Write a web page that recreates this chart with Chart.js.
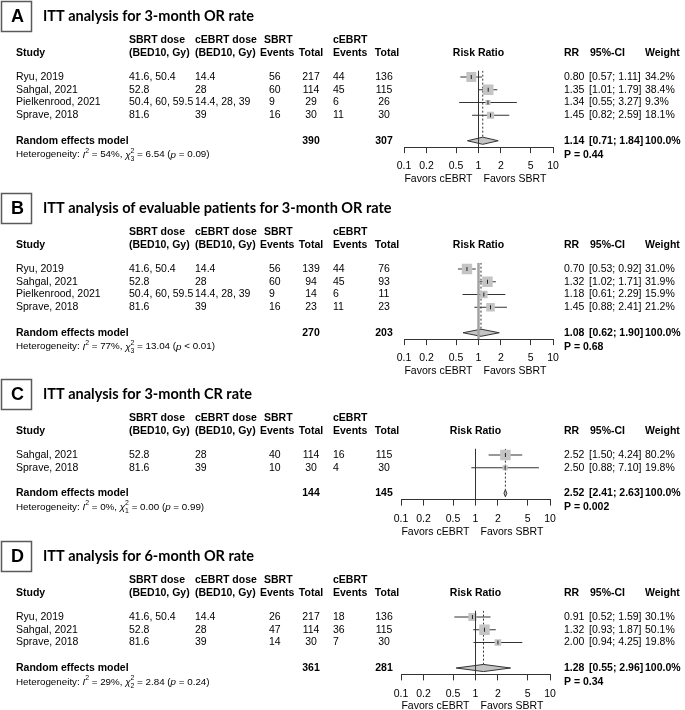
<!DOCTYPE html>
<html>
<head>
<meta charset="utf-8">
<script src="https://cdn.jsdelivr.net/npm/chart.js@4.4.1/dist/chart.umd.min.js"></script>
<style>
  html, body { margin: 0; padding: 0; background: #fff; }
  #wrap { position: relative; width: 685px; height: 710px; overflow: hidden; background: #fff; }
  canvas { position: absolute; left: 0; }
</style>
</head>
<body>
<div id="wrap">
  <canvas id="panelA" width="685" height="190"></canvas>
  <canvas id="panelB" width="685" height="190"></canvas>
  <canvas id="panelC" width="685" height="170"></canvas>
  <canvas id="panelD" width="685" height="170"></canvas>
</div>
<script>
// ---- panel A: ITT, 3-month OR ----
const studiesA = ['Ryu, 2019', 'Sahgal, 2021', 'Pielkenrood, 2021', 'Sprave, 2018'];
const sbrtDoseA = ['41.6, 50.4', '52.8', '50.4, 60, 59.5', '81.6'];
const cebrtDoseA = ['14.4', '28', '14.4, 28, 39', '39'];
const sbrtEventsA = [56, 60, 9, 16];
const sbrtTotalA = [217, 114, 29, 30];
const cebrtEventsA = [44, 45, 6, 11];
const cebrtTotalA = [136, 115, 26, 30];
const rrA = [0.80, 1.35, 1.34, 1.45];
const lowerA = [0.57, 1.01, 0.55, 0.82];
const upperA = [1.11, 1.79, 3.27, 2.59];
const weightA = [34.2, 38.4, 9.3, 18.1];

// ---- panel B: evaluable patients, 3-month OR ----
const studiesB = ['Ryu, 2019', 'Sahgal, 2021', 'Pielkenrood, 2021', 'Sprave, 2018'];
const sbrtDoseB = ['41.6, 50.4', '52.8', '50.4, 60, 59.5', '81.6'];
const cebrtDoseB = ['14.4', '28', '14.4, 28, 39', '39'];
const sbrtEventsB = [56, 60, 9, 16];
const sbrtTotalB = [139, 94, 14, 23];
const cebrtEventsB = [44, 45, 6, 11];
const cebrtTotalB = [76, 93, 11, 23];
const rrB = [0.70, 1.32, 1.18, 1.45];
const lowerB = [0.53, 1.02, 0.61, 0.88];
const upperB = [0.92, 1.71, 2.29, 2.41];
const weightB = [31.0, 31.9, 15.9, 21.2];

// ---- panel C: ITT, 3-month CR ----
const studiesC = ['Sahgal, 2021', 'Sprave, 2018'];
const sbrtDoseC = ['52.8', '81.6'];
const cebrtDoseC = ['28', '39'];
const sbrtEventsC = [40, 10];
const sbrtTotalC = [114, 30];
const cebrtEventsC = [16, 4];
const cebrtTotalC = [115, 30];
const rrC = [2.52, 2.50];
const lowerC = [1.50, 0.88];
const upperC = [4.24, 7.10];
const weightC = [80.2, 19.8];

// ---- panel D: ITT, 6-month OR ----
const studiesD = ['Ryu, 2019', 'Sahgal, 2021', 'Sprave, 2018'];
const sbrtDoseD = ['41.6, 50.4', '52.8', '81.6'];
const cebrtDoseD = ['14.4', '28', '39'];
const sbrtEventsD = [26, 47, 14];
const sbrtTotalD = [217, 114, 30];
const cebrtEventsD = [18, 36, 7];
const cebrtTotalD = [136, 115, 30];
const rrD = [0.91, 1.32, 2.00];
const lowerD = [0.52, 0.93, 0.94];
const upperD = [1.59, 1.87, 4.25];
const weightD = [30.1, 50.1, 19.8];

// ---- per-panel summary values (A, B, C, D) ----
const panelLetters = ['A', 'B', 'C', 'D'];
const panelTitles = [
  'ITT analysis for 3-month OR rate',
  'ITT analysis of evaluable patients for 3-month OR rate',
  'ITT analysis for 3-month CR rate',
  'ITT analysis for 6-month OR rate',
];
const pooledRR = [1.14, 1.08, 2.52, 1.28];
const pooledLower = [0.71, 0.62, 2.41, 0.55];
const pooledUpper = [1.84, 1.90, 2.63, 2.96];
const pooledSbrtTotal = [390, 270, 144, 361];
const pooledCebrtTotal = [307, 203, 145, 281];
const pValues = ['0.44', '0.68', '0.002', '0.34'];
const hetI2 = ['54%', '77%', '0%', '29%'];
const hetDf = ['3', '3', '1', '2'];
const hetChi2 = ['6.54', '13.04', '0.00', '2.84'];
const hetP = ['= 0.09', '< 0.01', '= 0.99', '= 0.24'];

const xTicks = [0.1, 0.2, 0.5, 1, 2, 5, 10];
const xTickLabels = ['0.1', '0.2', '0.5', '1', '2', '5', '10'];
const favorsLabels = ['Favors cEBRT', 'Favors SBRT'];

// ---- layout / style ----
const SANS = '"Liberation Sans", Arial, Helvetica, sans-serif';
const FS = 10.5;
const UNIT = 12.75;          // px per table row
const ROW0 = 77;             // first study row, px from panel top
const PAD_TOP = ROW0 - UNIT / 2;
const MAX_SIDE = 10.5;       // side of the largest weight square
const DIAMOND_H = 0.28;      // half height of the diamond, in rows
const panelTops = [0, 192, 378, 540];
const axisLeft = [404, 404, 401, 401];
const axisRight = [553, 553, 550, 550];
const refColor = ['#333', '#a3a3a3', '#333', '#333'];
const refWidth = [1, 2.5, 1, 1];
const GREY = '#c4c4c4';
const INK = '#333';
// column x positions
const COL = {
  study: 16, sbrtDose: 129, cebrtDose: 195,
  sbrtEventsHead1: 264, sbrtEventsHead2: 260, sbrtEvents: 269,
  sbrtTotal: 311, cebrtEvents: 333, cebrtTotalHead: 387, cebrtTotal: 384,
  rr: 564, ciHead: 590, ci: 589, weight: 645,
};

const chartInstances = {};

function text(ctx, s, x, y, align, bold, size) {
  ctx.font = (bold ? 'bold ' : '') + (size || FS) + 'px ' + SANS;
  ctx.textAlign = align || 'left';
  ctx.textBaseline = 'middle';
  ctx.fillStyle = '#000';
  ctx.fillText(s, x, y);
}

function drawHeterogeneity(ctx, k, x, y) {
  const size = 9.8;
  const normal = size + 'px ' + SANS;
  const italic = 'italic ' + size + 'px ' + SANS;
  const small = (size * 0.7).toFixed(1) + 'px ' + SANS;
  ctx.textAlign = 'left';
  ctx.textBaseline = 'middle';
  ctx.fillStyle = '#000';
  let cx = x;
  const put = (s, font, dy) => {
    ctx.font = font;
    ctx.fillText(s, cx, y + (dy || 0));
    cx += ctx.measureText(s).width;
  };
  put('Heterogeneity: ', normal);
  put('I', italic);
  put('2', small, -4);
  put(' = ' + hetI2[k] + ', ', normal);
  put('\u03C7', italic);
  ctx.font = small;
  ctx.fillText('2', cx, y - 4);
  ctx.fillText(hetDf[k], cx, y + 4);
  cx += ctx.measureText('2').width;
  put(' = ' + hetChi2[k] + ' (', normal);
  put('p', italic);
  put(' ' + hetP[k] + ')', normal);
}

function tablePlugin(k, rows) {
  return {
    id: 'forestTable' + k,
    afterDraw(chart) {
      const ctx = chart.ctx;
      const ys = chart.scales.y;
      const xs = chart.scales.x;
      const Y = v => ys.getPixelForValue(v);
      const n = rows.studies.length;
      ctx.save();

      // letter box + title
      const top = Y(0) - 76;
      ctx.strokeStyle = '#5a5a5a';
      ctx.lineWidth = 1.5;
      ctx.strokeRect(1.5, top + 0.5, 30, 30);
      text(ctx, panelLetters[k], 17.5, top + 16, 'center', true, 18);
      ctx.font = 'bold 14.5px Lato, "Open Sans", sans-serif';
      ctx.textAlign = 'left';
      ctx.textBaseline = 'middle';
      ctx.fillStyle = '#000';
      ctx.fillText(panelTitles[k], 43, top + 15);

      // column headers
      const h1 = Y(-2.9), h2 = Y(-1.9);
      text(ctx, 'SBRT dose', COL.sbrtDose, h1, 'left', true);
      text(ctx, 'cEBRT dose', COL.cebrtDose, h1, 'left', true);
      text(ctx, 'SBRT', COL.sbrtEventsHead1, h1, 'left', true);
      text(ctx, 'cEBRT', COL.cebrtEvents, h1, 'left', true);
      text(ctx, 'Study', COL.study, h2, 'left', true);
      text(ctx, '(BED10, Gy)', COL.sbrtDose, h2, 'left', true);
      text(ctx, '(BED10, Gy)', COL.cebrtDose, h2, 'left', true);
      text(ctx, 'Events', COL.sbrtEventsHead2, h2, 'left', true);
      text(ctx, 'Total', COL.sbrtTotal, h2, 'center', true);
      text(ctx, 'Events', COL.cebrtEvents, h2, 'left', true);
      text(ctx, 'Total', COL.cebrtTotalHead, h2, 'center', true);
      text(ctx, 'Risk Ratio', xs.getPixelForValue(1), h2, 'center', true);
      text(ctx, 'RR', COL.rr, h2, 'left', true);
      text(ctx, '95%-CI', COL.ciHead, h2, 'left', true);
      text(ctx, 'Weight', COL.weight, h2, 'left', true);

      // study rows
      rows.studies.forEach((s, i) => {
        const y = Y(i);
        text(ctx, s, COL.study, y);
        text(ctx, rows.sbrtDose[i], COL.sbrtDose, y);
        text(ctx, rows.cebrtDose[i], COL.cebrtDose, y);
        text(ctx, String(rows.sbrtEvents[i]), COL.sbrtEvents, y);
        text(ctx, String(rows.sbrtTotal[i]), COL.sbrtTotal, y, 'center');
        text(ctx, String(rows.cebrtEvents[i]), COL.cebrtEvents, y);
        text(ctx, String(rows.cebrtTotal[i]), COL.cebrtTotal, y, 'center');
        text(ctx, rows.rr[i].toFixed(2), COL.rr, y);
        text(ctx, '[' + rows.lower[i].toFixed(2) + '; ' + rows.upper[i].toFixed(2) + ']', COL.ci, y);
        text(ctx, rows.weight[i].toFixed(1) + '%', COL.weight, y);
      });

      // pooled row
      const yr = Y(n + 1);
      text(ctx, 'Random effects model', COL.study, yr, 'left', true);
      text(ctx, String(pooledSbrtTotal[k]), COL.sbrtTotal, yr, 'center', true);
      text(ctx, String(pooledCebrtTotal[k]), COL.cebrtTotal, yr, 'center', true);
      text(ctx, pooledRR[k].toFixed(2), COL.rr, yr, 'left', true);
      text(ctx, '[' + pooledLower[k].toFixed(2) + '; ' + pooledUpper[k].toFixed(2) + ']', COL.ci, yr, 'left', true);
      text(ctx, '100.0%', COL.weight, yr, 'left', true);

      const yh = Y(n + 2.1);
      drawHeterogeneity(ctx, k, COL.study, yh);
      text(ctx, 'P = ' + pValues[k], COL.rr, yh, 'left', true);

      // favours labels under the axis
      const x1 = xs.getPixelForValue(1);
      const yf = chart.chartArea.bottom + 32;
      text(ctx, favorsLabels[0], x1 - 6, yf, 'right');
      text(ctx, favorsLabels[1], x1 + 5, yf, 'left');
      ctx.restore();
    },
  };
}

function renderPanel(k, rows) {
  const id = 'panel' + panelLetters[k];
  const canvas = document.getElementById(id);
  const n = rows.studies.length;
  const axisY = PAD_TOP + (n + 2) * UNIT;
  const height = Math.ceil(axisY + 40);
  canvas.height = height;
  canvas.style.top = panelTops[k] + 'px';

  if (chartInstances[id]) chartInstances[id].destroy();

  const wmax = Math.max(...rows.weight);
  const points = rows.rr.map((v, i) => ({ x: v, y: i }));
  const yd = n + 1;
  const datasets = [];

  // line of no effect
  datasets.push({
    data: [{ x: 1, y: -0.5 }, { x: 1, y: n + 1.5 }],
    showLine: true, borderColor: refColor[k], borderWidth: refWidth[k], pointRadius: 0, order: 0,
  });
  // pooled estimate, dotted
  datasets.push({
    data: [{ x: pooledRR[k], y: -0.5 }, { x: pooledRR[k], y: yd - DIAMOND_H }],
    showLine: true, borderColor: INK, borderWidth: 1, borderDash: [2, 2], pointRadius: 0, order: 5,
  });
  // confidence intervals
  rows.rr.forEach((v, i) => {
    datasets.push({
      data: [{ x: rows.lower[i], y: i }, { x: rows.upper[i], y: i }],
      showLine: true, borderColor: INK, borderWidth: 1, pointRadius: 0, order: 4,
    });
  });
  // weight squares
  datasets.push({
    data: points,
    pointStyle: 'rect',
    pointRadius: rows.weight.map(w => MAX_SIDE * Math.sqrt(w / wmax) / Math.SQRT2),
    backgroundColor: GREY, borderWidth: 0, order: 3,
  });
  // point estimate tick
  datasets.push({
    data: points,
    pointStyle: 'line', rotation: 90, pointRadius: 2,
    borderColor: '#222', borderWidth: 1, order: 2,
  });
  // summary diamond (upper and lower halves, filled between)
  datasets.push({
    data: [{ x: pooledLower[k], y: yd }, { x: pooledRR[k], y: yd - DIAMOND_H }, { x: pooledUpper[k], y: yd }],
    showLine: true, borderColor: INK, borderWidth: 1, pointRadius: 0, fill: false, order: 6,
  });
  datasets.push({
    data: [{ x: pooledLower[k], y: yd }, { x: pooledRR[k], y: yd + DIAMOND_H }, { x: pooledUpper[k], y: yd }],
    showLine: true, borderColor: INK, borderWidth: 1, pointRadius: 0, fill: '-1', backgroundColor: GREY, order: 6,
  });

  chartInstances[id] = new Chart(canvas, {
    type: 'scatter',
    data: { datasets: datasets },
    options: {
      responsive: false,
      animation: false,
      events: [],
      layout: { padding: { left: axisLeft[k], right: 685 - axisRight[k], top: PAD_TOP, bottom: 0 } },
      plugins: { legend: { display: false }, tooltip: { enabled: false } },
      scales: {
        x: {
          type: 'logarithmic',
          position: 'bottom',
          min: 0.1,
          max: 10,
          afterBuildTicks: s => { s.ticks = xTicks.map(v => ({ value: v })); },
          afterFit: s => { s.height = height - axisY; },
          ticks: {
            color: '#000',
            font: { family: SANS, size: FS },
            padding: 7,
            autoSkip: false,
            maxRotation: 0,
            callback: (v, i) => xTickLabels[i],
          },
          grid: { display: true, drawOnChartArea: false, drawTicks: true, tickLength: 6, color: INK, lineWidth: 1 },
          border: { display: true, color: INK, width: 1 },
        },
        y: { type: 'linear', display: false, reverse: true, min: -0.5, max: n + 1.5 },
      },
    },
    plugins: [tablePlugin(k, rows)],
  });
}

renderPanel(0, { studies: studiesA, sbrtDose: sbrtDoseA, cebrtDose: cebrtDoseA, sbrtEvents: sbrtEventsA, sbrtTotal: sbrtTotalA,
  cebrtEvents: cebrtEventsA, cebrtTotal: cebrtTotalA, rr: rrA, lower: lowerA, upper: upperA, weight: weightA });
renderPanel(1, { studies: studiesB, sbrtDose: sbrtDoseB, cebrtDose: cebrtDoseB, sbrtEvents: sbrtEventsB, sbrtTotal: sbrtTotalB,
  cebrtEvents: cebrtEventsB, cebrtTotal: cebrtTotalB, rr: rrB, lower: lowerB, upper: upperB, weight: weightB });
renderPanel(2, { studies: studiesC, sbrtDose: sbrtDoseC, cebrtDose: cebrtDoseC, sbrtEvents: sbrtEventsC, sbrtTotal: sbrtTotalC,
  cebrtEvents: cebrtEventsC, cebrtTotal: cebrtTotalC, rr: rrC, lower: lowerC, upper: upperC, weight: weightC });
renderPanel(3, { studies: studiesD, sbrtDose: sbrtDoseD, cebrtDose: cebrtDoseD, sbrtEvents: sbrtEventsD, sbrtTotal: sbrtTotalD,
  cebrtEvents: cebrtEventsD, cebrtTotal: cebrtTotalD, rr: rrD, lower: lowerD, upper: upperD, weight: weightD });
</script>
</body>
</html>
